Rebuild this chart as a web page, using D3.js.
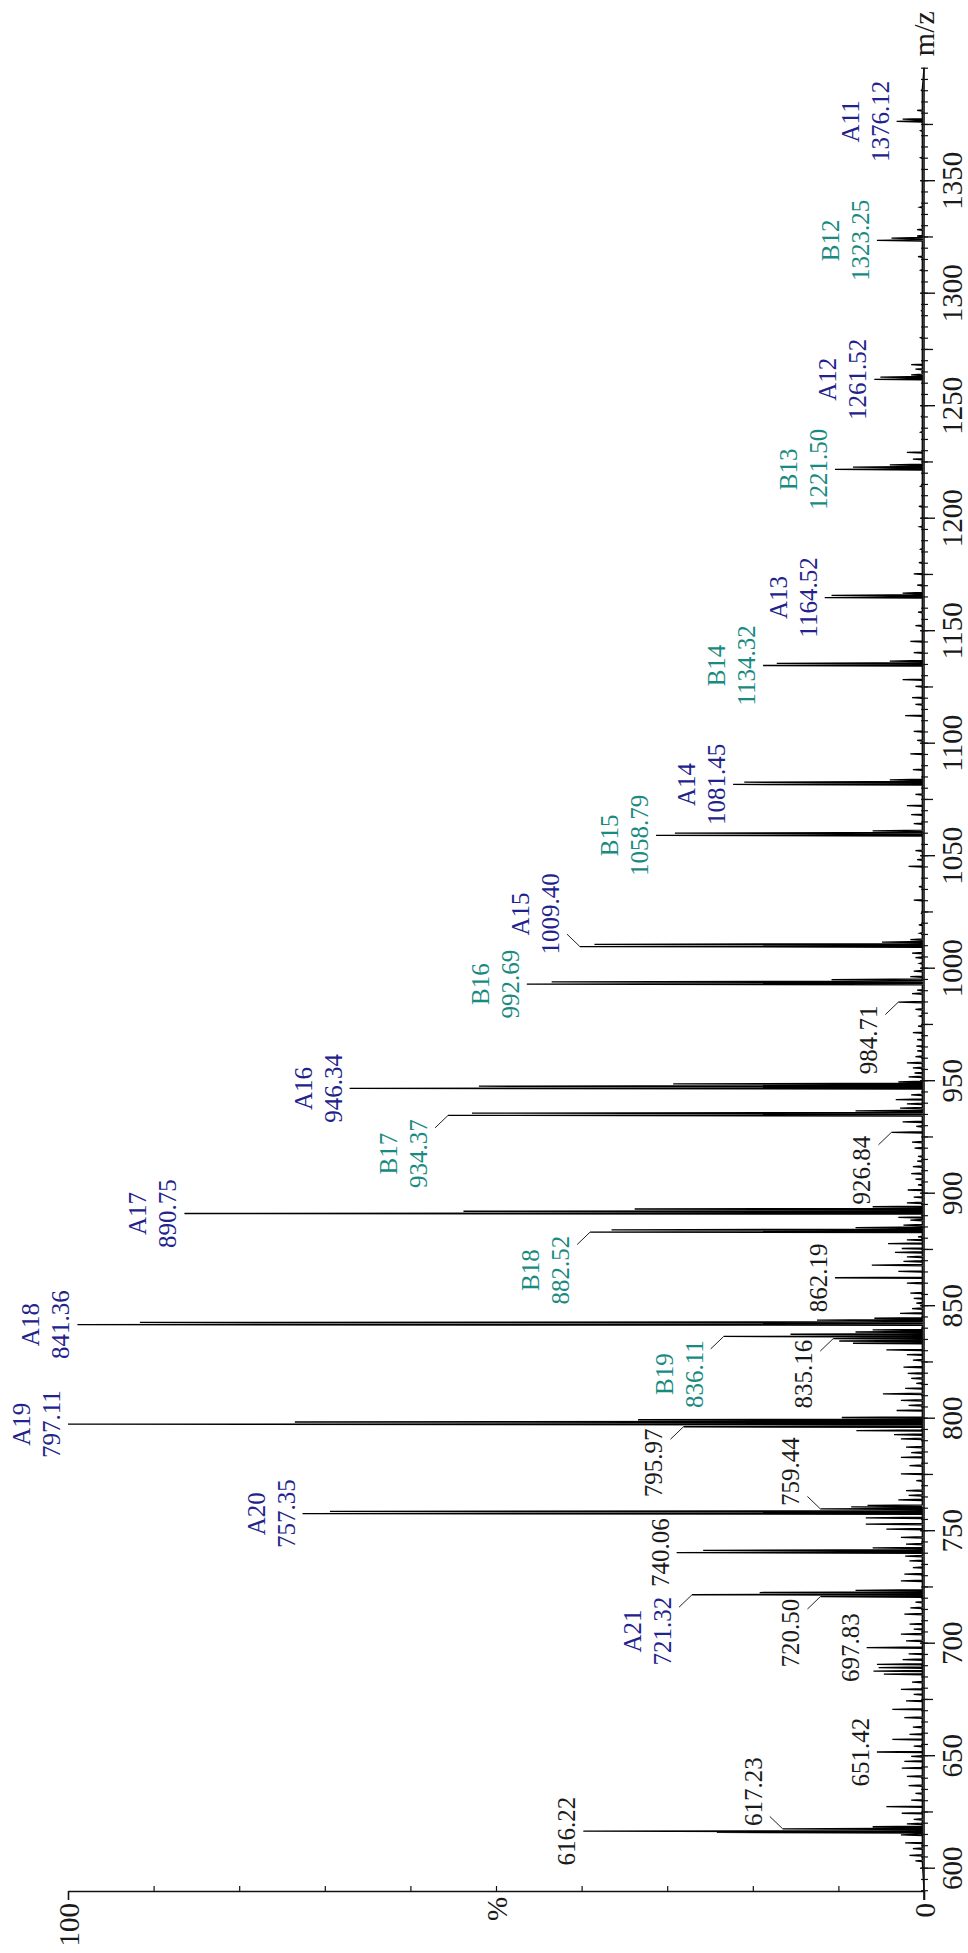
<!DOCTYPE html>
<html lang="en">
<head>
<meta charset="UTF-8">
<title>Mass spectrum</title>
<style>
  body { margin: 0; background: #fff; }
  svg { display: block; font-family: "Liberation Serif", "Times New Roman", serif; }
  .peak-label { font-size: 25px; }
</style>
<script src="https://d3js.org/d3.v7.min.js"></script>
</head>
<body>
<svg id="chart" width="968" height="1953"></svg>
<script>
// labelled peaks: m/z, relative intensity (%), ion name, m/z where the label sits
const peakMz   = [616.22, 617.23, 651.42, 697.83, 720.50, 721.32, 740.06, 757.35, 759.44, 795.97, 797.11,
                  835.16, 836.11, 841.36, 862.19, 882.52, 890.75, 926.84, 934.37, 946.34, 984.71, 992.69,
                  1009.40, 1058.79, 1081.45, 1134.32, 1164.52, 1221.50, 1261.52, 1323.25, 1376.12];
const peakInt  = [39.8, 16.5, 5.5, 6.7, 12.1, 27.1, 28.9, 72.6, 12.1, 28.1, 100,
                  10.6, 23.4, 98.9, 10.4, 39.0, 86.4, 3.8, 55.6, 67.1, 3.0, 46.4,
                  40.2, 31.3, 22.3, 18.8, 11.6, 10.4, 5.8, 5.5, 3.2];
const peakName = ["", "", "", "", "", "A21", "", "A20", "", "", "A19",
                  "", "B19", "A18", "", "B18", "A17", "", "B17", "A16", "", "B16",
                  "A15", "B15", "A14", "B14", "A13", "B13", "A12", "B12", "A11"];
const labelAt  = [616.22, 633.8, 651.42, 697.83, 704.3, 705.2, 740.06, 757.35, 776.0, 779.9, 797.11,
                  819.4, 819.4, 841.36, 862.19, 865.6, 890.75, 910.0, 917.4, 946.34, 967.9, 992.69,
                  1023.9, 1058.79, 1081.45, 1134.32, 1164.52, 1221.50, 1261.52, 1323.25, 1376.12];

// isotope / shoulder peaks next to the labelled ones
const isoMz  = [615.7, 618.2, 722.3, 723.3, 741.06, 742.1, 758.35, 760.4, 798.1, 799.1, 800.1,
                837.1, 838.1, 842.36, 843.4, 883.5, 884.5, 891.75, 892.75, 893.75, 935.37, 936.4,
                947.34, 948.34, 949.3, 993.69, 994.7, 1010.4, 1011.4, 1059.8, 1060.8, 1082.45, 1083.5,
                1135.3, 1136.3, 1165.5, 1166.5, 1222.5, 1223.5, 1262.5, 1263.5, 1324.25, 1325.2, 1377.1];
const isoInt = [24.2, 6.0, 19.2, 8.0, 25.8, 6.0, 69.4, 8.5, 73.5, 33.4, 9.6,
                15.6, 8.0, 91.6, 12.5, 36.5, 8.0, 53.8, 33.8, 6.0, 52.8, 8.0,
                52.0, 29.3, 3.0, 43.5, 10.8, 38.5, 4.9, 29.1, 6.0, 21.0, 4.0,
                17.2, 4.0, 10.8, 2.5, 8.3, 4.0, 5.1, 1.5, 3.8, 0.8, 2.5];

// small background peaks
const noiseMz  = [603, 605.5, 608.5, 611, 614.6, 619.5, 621.5, 624.2, 627.1, 630, 633, 636.5, 640.6, 644.3,
                  647.3, 649.5, 654, 657, 659.3, 662.5, 666.7, 670.4, 674.1, 677, 679.3, 682.5, 686, 687.4,
                  688.9, 690.4, 692.5, 695, 700.8, 703.8, 706, 708.3, 712.7, 715.5, 718, 727.5, 730.5, 733.4,
                  736.4, 738.5, 743.8, 746.8, 750.5, 752.7, 755.5, 761, 763.5, 765.5, 767.6, 772, 775, 778.7,
                  782.4, 784.5, 786.9, 790.6, 792.5, 794.3, 803.2, 805.5, 807.7, 810.6, 813, 815.3, 817.5,
                  819.7, 822.5, 825.6, 828, 830.1, 833.1, 834.1, 839, 844.2, 846.4, 848.5, 850.9, 853, 855.4,
                  859.8, 865, 867.8, 869.5, 871.5, 873.5, 875.2, 877.4, 879, 880.4, 885.6, 887.8, 889, 895.5,
                  898, 901.2, 903.5, 906, 908.5, 911.6, 914, 916.1, 919.8, 922.5, 929.5, 931.5, 937.6, 939.5,
                  941.4, 943.5, 951.5, 953.2, 955.5, 957.7, 960.5, 963, 965.1, 968, 971.1, 974, 978.5, 981.5,
                  988.5, 990, 996, 998.5, 1001.9, 1004.5, 1006.5, 1012.5, 1015.3, 1019, 1024.2, 1030, 1036,
                  1045, 1048, 1052, 1064, 1068, 1072, 1077, 1088, 1095, 1101, 1105, 1112, 1117, 1120, 1125,
                  1128, 1140, 1145, 1152, 1158, 1170, 1175, 1180, 1186, 1196, 1205, 1214, 1226, 1229, 1238,
                  1245, 1266, 1268, 1280, 1292, 1310, 1316, 1328, 1338, 1360, 1372, 1381, 1390];
const noiseInt = [1.0, 1.7, 1.3, 2.2, 2.7, 2.0, 1.2, 2.6, 4.4, 1.5, 1.0, 1.8, 2.0, 2.6,
                  2.3, 1.5, 1.2, 3.7, 1.7, 1.3, 2.3, 3.7, 2.1, 1.2, 2.7, 1.4, 4.7, 5.9,
                  5.3, 5.5, 2.5, 1.8, 2.1, 2.7, 1.2, 1.7, 2.3, 1.6, 1.0, 2.7, 2.3, 1.3,
                  1.7, 2.2, 2.1, 2.7, 4.4, 6.8, 6.8, 6.6, 3.0, 1.8, 2.1, 0.9, 2.7, 1.7,
                  2.7, 1.5, 2.1, 2.7, 3.5, 7.9, 3.2, 1.8, 2.7, 4.8, 2.2, 0.9, 1.5,
                  1.9, 2.4, 1.3, 2.0, 4.4, 8.3, 9.9, 6.0, 5.8, 2.8, 1.4, 0.9, 1.2, 1.6,
                  2.0, 3.0, 6.1, 2.4, 2.0, 3.4, 2.6, 4.2, 2.0, 0.7, 2.4, 1.6, 3.0, 2.0,
                  1.2, 1.9, 0.7, 1.0, 1.5, 1.3, 0.8, 0.7, 1.1, 1.4, 0.9, 2.5, 2.8, 2.0,
                  3.3, 1.5, 1.8, 1.1, 1.3, 2.0, 1.0, 0.8, 0.9, 0.8, 1.3, 0.7, 0.5, 1.0,
                  1.4, 0.8, 1.6, 1.2, 0.5, 1.0, 1.4, 1.6, 0.5, 0.6, 0.3, 1.2, 0.6,
                  1.8, 0.8, 1.0, 1.2, 1.5, 2.0, 1.0, 1.3, 1.6, 0.8, 1.2, 2.2, 1.0, 1.4, 1.0,
                  2.5, 1.2, 1.6, 1.0, 0.7, 0.8, 1.2, 0.6, 0.4, 0.5, 0.6, 0.4, 1.3, 2.0, 0.4,
                  0.3, 1.0, 1.5, 0.4, 0.3, 0.4, 0.7, 0.8, 0.5, 0.4, 0.4, 0.8, 0.3];

const mzTickLabels  = [600, 650, 700, 750, 800, 850, 900, 950, 1000, 1050, 1100, 1150, 1200, 1250, 1300, 1350];
const mzQuarterTicks = [625, 675, 725, 775, 825, 875, 925, 975, 1025, 1075, 1125, 1175, 1225, 1275, 1325, 1375];
const intTickLabels = [0, 100];
const intMinorTicks = [10, 20, 30, 40, 50, 60, 70, 80, 90];

const colA = "#22228c", colB = "#188a7f", colPlain = "#1a1a1a";

const svg = d3.select("#chart");
svg.append("rect").attr("width", 968).attr("height", 1953).attr("fill", "#fff");

// the plot is turned on its side: intensity runs right-to-left, m/z runs bottom-to-top
const x = d3.scaleLinear().domain([0, 100]).range([924, 68]);
const y = d3.scaleLinear().domain([590, 1400]).range([1890.2, 67.7]);
const axisY = 1891;

// spectrum trace
const sticks = [];
peakMz.forEach((m, i) => sticks.push([m, peakInt[i]]));
isoMz.forEach((m, i) => sticks.push([m, isoInt[i]]));
noiseMz.forEach((m, i) => sticks.push([m, noiseInt[i]]));
sticks.sort((a, b) => a[0] - b[0]);

const pts = [[590, 0]];
sticks.forEach(s => {
    pts.push([s[0] - 0.3, 0.2], [s[0], s[1]], [s[0] + 0.3, 0.2]);
});
pts.push([1400, 0]);

const line = d3.line().x(d => x(d[1])).y(d => y(d[0]));
svg.append("path")
    .attr("d", line(pts))
    .attr("fill", "none")
    .attr("stroke", "#000")
    .attr("stroke-width", 1.3)
    .attr("stroke-linejoin", "miter");

// m/z axis (right side)
const mzAxisG = svg.append("g");
mzAxisG.append("line")
    .attr("x1", 924).attr("x2", 924)
    .attr("y1", axisY + 9).attr("y2", y(1400))
    .attr("stroke", "#111").attr("stroke-width", 1.6);

const minorVals = d3.range(590, 1401, 5);
mzAxisG.append("g")
    .attr("transform", "translate(921,0)")
    .call(d3.axisRight(y).tickValues(minorVals).tickSize(7).tickFormat(""))
    .call(g => g.select(".domain").remove())
    .selectAll("line").attr("stroke", "#111").attr("stroke-width", 1.2);

mzAxisG.append("g")
    .attr("transform", "translate(924,0)")
    .call(d3.axisRight(y).tickValues(mzQuarterTicks).tickSize(9).tickFormat(""))
    .call(g => g.select(".domain").remove())
    .selectAll("line").attr("stroke", "#111").attr("stroke-width", 1.3);

const mzMajor = mzAxisG.append("g")
    .attr("transform", "translate(920,0)")
    .call(d3.axisRight(y).tickValues(mzTickLabels).tickSize(15).tickFormat(d3.format("d")))
    .call(g => g.select(".domain").remove())
    .attr("font-family", null).attr("font-size", null);
mzMajor.selectAll("line").attr("stroke", "#111").attr("stroke-width", 1.4);
mzMajor.selectAll("text")
    .attr("x", null).attr("dy", null)
    .attr("transform", "translate(42,0) rotate(-90)")
    .attr("text-anchor", "middle")
    .attr("font-size", 29)
    .attr("fill", colPlain);

// intensity axis (bottom)
const intAxis = svg.append("g")
    .attr("transform", `translate(0,${axisY})`)
    .call(d3.axisBottom(x).tickValues(intTickLabels).tickSize(9).tickSizeOuter(0).tickFormat(d3.format("d")))
    .attr("font-family", null).attr("font-size", null);
intAxis.select(".domain").attr("stroke", "#111").attr("stroke-width", 1.6);
intAxis.selectAll("line").attr("stroke", "#111").attr("stroke-width", 1.6);
intAxis.selectAll("text")
    .attr("y", null).attr("dy", null)
    .attr("transform", "translate(10,12) rotate(-90)")
    .attr("text-anchor", "end")
    .attr("font-size", 29)
    .attr("fill", colPlain);

svg.append("g")
    .attr("transform", `translate(0,${axisY})`)
    .call(d3.axisTop(x).tickValues(intMinorTicks).tickSize(5).tickFormat(""))
    .call(g => g.select(".domain").remove())
    .selectAll("line").attr("stroke", "#111").attr("stroke-width", 1.2);

svg.append("text")
    .attr("transform", `translate(${x(50) + 11},${axisY + 18}) rotate(-90)`)
    .attr("text-anchor", "middle")
    .attr("font-size", 29)
    .attr("fill", colPlain)
    .text("%");

svg.append("text")
    .attr("transform", `translate(934,${y(1400) - 34}) rotate(-90)`)
    .attr("text-anchor", "middle")
    .attr("font-size", 30)
    .attr("fill", colPlain)
    .text("m/z");

// peak labels
const fmt = d3.format(".2f");
const labels = svg.append("g").attr("class", "peak-label");
peakMz.forEach((m, i) => {
    const tx = x(peakInt[i]), ty = y(m);
    const moved = Math.abs(labelAt[i] - m) > 1;
    const name = peakName[i];
    const col = name.startsWith("A") ? colA : name.startsWith("B") ? colB : colPlain;
    let bx = tx - 8;
    if (moved) {
        const dir = labelAt[i] > m ? -1 : 1;
        labels.append("line")
            .attr("x1", tx).attr("y1", ty)
            .attr("x2", tx - 13).attr("y2", ty + dir * 12.5)
            .attr("stroke", "#222").attr("stroke-width", 1);
        bx = tx - 21;
    }
    const g = labels.append("g")
        .attr("transform", `translate(${bx},${y(labelAt[i])}) rotate(-90)`)
        .attr("fill", col);
    g.append("text").attr("text-anchor", "middle").text(fmt(m));
    if (name) {
        g.append("text").attr("text-anchor", "middle").attr("y", -30).text(name);
    }
});
</script>
</body>
</html>
